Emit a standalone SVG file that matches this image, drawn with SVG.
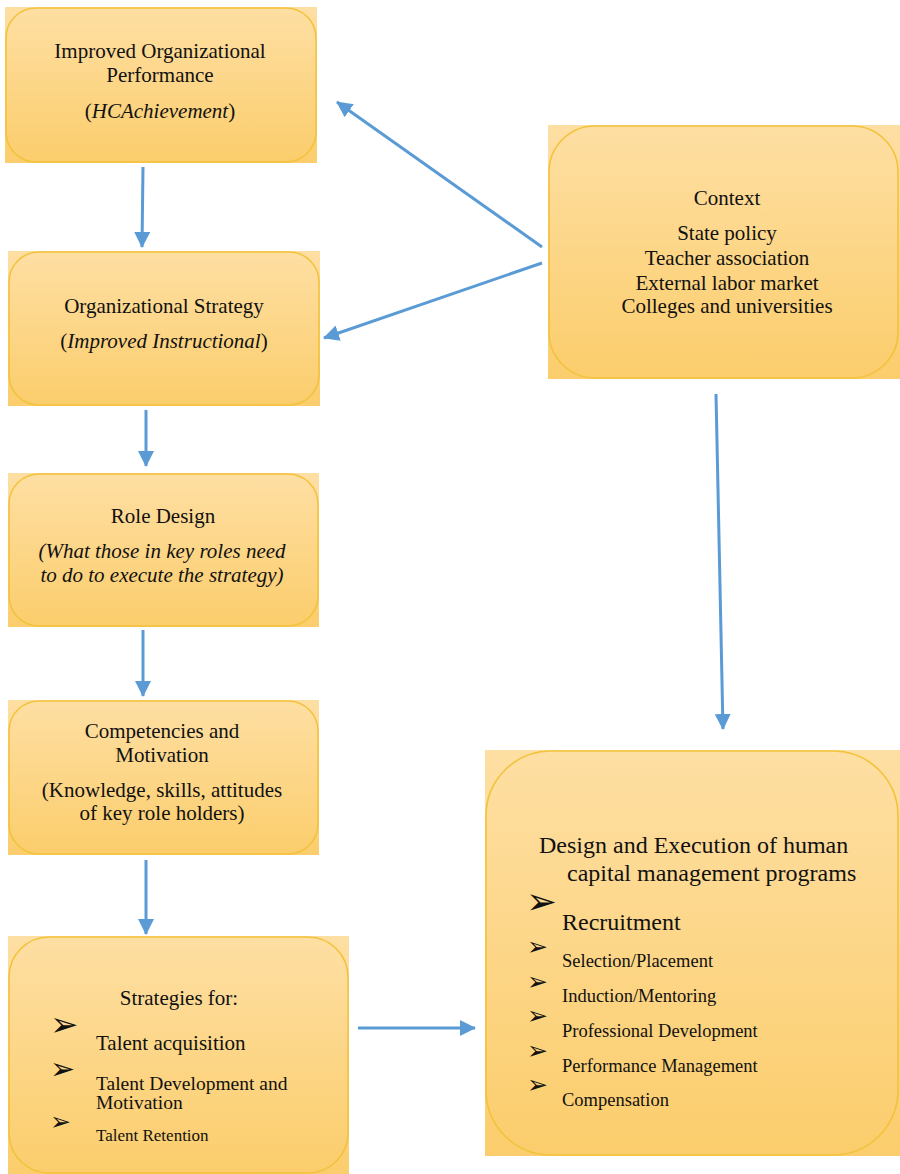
<svg xmlns="http://www.w3.org/2000/svg" width="900" height="1174" viewBox="0 0 900 1174">
  <defs>
    <linearGradient id="boxFill" x1="0" y1="0" x2="0" y2="1">
      <stop offset="0" stop-color="#fedfa3"/>
      <stop offset="1" stop-color="#fbcd6c"/>
    </linearGradient>
    <marker id="head" markerUnits="userSpaceOnUse" markerWidth="16" markerHeight="16" refX="15" refY="8" orient="auto">
      <path d="M0,0 L16,8 L0,16 Z" fill="#5b9bd5"/>
    </marker>
    <style>
      .back { fill: url(#boxFill); }
      .box { fill: url(#boxFill); stroke: #f3c23c; stroke-width: 1.6; }
      .t { font-size: 21px; fill: #111; text-anchor: middle; }
      .i { font-style: italic; }
      .l { fill: #111; }
      .b { font-family: "DejaVu Sans", sans-serif; fill: #111; }
      .conn line { stroke: #5b9bd5; stroke-width: 3; marker-end: url(#head); }
    </style>
  </defs>

  <rect width="900" height="1174" fill="#ffffff"/>

  <g font-family="Liberation Serif, Times New Roman, serif">
  <!-- Improved Organizational Performance -->
  <g id="performance">
    <rect class="back" x="5" y="7" width="312" height="156"/>
    <rect class="box" x="6" y="8" width="310" height="154" rx="30"/>
    <text class="t" x="160" y="58">Improved Organizational</text>
    <text class="t" x="160" y="82">Performance</text>
    <text class="t" x="160" y="118">(<tspan class="i">HCAchievement</tspan>)</text>
  </g>

  <!-- Organizational Strategy -->
  <g id="strategy">
    <rect class="back" x="8" y="251" width="312" height="155"/>
    <rect class="box" x="9" y="252" width="310" height="153" rx="30"/>
    <text class="t" x="164" y="313">Organizational Strategy</text>
    <text class="t" x="164" y="348">(<tspan class="i">Improved Instructional</tspan>)</text>
  </g>

  <!-- Role Design -->
  <g id="role-design">
    <rect class="back" x="8" y="473" width="311" height="154"/>
    <rect class="box" x="9" y="474" width="309" height="152" rx="30"/>
    <text class="t" x="163" y="523">Role Design</text>
    <text class="t i" x="162" y="558">(What those in key roles need</text>
    <text class="t i" x="162" y="582">to do to execute the strategy)</text>
  </g>

  <!-- Competencies and Motivation -->
  <g id="competencies">
    <rect class="back" x="8" y="700" width="311" height="155"/>
    <rect class="box" x="9" y="701" width="309" height="153" rx="30"/>
    <text class="t" x="162" y="738">Competencies and</text>
    <text class="t" x="162" y="762">Motivation</text>
    <text class="t" x="162" y="797">(Knowledge, skills, attitudes</text>
    <text class="t" x="162" y="820">of key role holders)</text>
  </g>

  <!-- Strategies for talent -->
  <g id="talent-strategies">
    <rect class="back" x="8" y="936" width="341" height="238"/>
    <rect class="box" x="9" y="937" width="339" height="236" rx="40"/>
    <text class="t" x="179" y="1005">Strategies for:</text>
    <text class="b" x="50" y="1036" font-size="34">➢</text>
    <text class="l" x="96" y="1050" font-size="21">Talent acquisition</text>
    <text class="b" x="50" y="1079" font-size="30">➢</text>
    <text class="l" x="96" y="1090" font-size="19.5">Talent Development and</text>
    <text class="l" x="96" y="1109" font-size="19.5">Motivation</text>
    <text class="b" x="50" y="1130" font-size="25">➢</text>
    <text class="l" x="96" y="1141" font-size="17">Talent Retention</text>
  </g>

  <!-- Context -->
  <g id="context">
    <rect class="back" x="548" y="125" width="352" height="254"/>
    <rect class="box" x="549" y="126" width="349" height="252" rx="46"/>
    <text class="t" x="727" y="205">Context</text>
    <text class="t" x="727" y="240">State policy</text>
    <text class="t" x="727" y="265">Teacher association</text>
    <text class="t" x="727" y="290">External labor market</text>
    <text class="t" x="727" y="313">Colleges and universities</text>
  </g>

  <!-- Design and Execution of human capital management programs -->
  <g id="hc-programs">
    <rect class="back" x="485" y="750" width="415" height="406"/>
    <rect class="box" x="486" y="751" width="412" height="404" rx="65"/>
    <text class="l" x="539" y="853" font-size="24">Design and Execution of human</text>
    <text class="l" x="567" y="881" font-size="24">capital management programs</text>
    <text class="b" x="526" y="914" font-size="37">➢</text>
    <text class="l" x="562" y="930" font-size="24">Recruitment</text>
    <text class="b" x="527" y="955" font-size="25">➢</text>
    <text class="l" x="562" y="967" font-size="18.5">Selection/Placement</text>
    <text class="b" x="527" y="990" font-size="25">➢</text>
    <text class="l" x="562" y="1002" font-size="18.5">Induction/Mentoring</text>
    <text class="b" x="527" y="1024" font-size="25">➢</text>
    <text class="l" x="562" y="1037" font-size="18.5">Professional Development</text>
    <text class="b" x="527" y="1059" font-size="25">➢</text>
    <text class="l" x="562" y="1072" font-size="18.5">Performance Management</text>
    <text class="b" x="527" y="1093" font-size="25">➢</text>
    <text class="l" x="562" y="1106" font-size="18.5">Compensation</text>
  </g>
  </g>

  <!-- Connectors -->
  <g id="connectors" class="conn">
    <line x1="143" y1="167" x2="142" y2="247"/>
    <line x1="146" y1="410" x2="146" y2="466"/>
    <line x1="143" y1="630" x2="143" y2="696"/>
    <line x1="146" y1="860" x2="146" y2="934"/>
    <line x1="358" y1="1028" x2="475" y2="1028"/>
    <line x1="716" y1="394" x2="723" y2="729"/>
    <line x1="542" y1="247" x2="337" y2="102"/>
    <line x1="542" y1="263" x2="324" y2="338"/>
  </g>
</svg>
